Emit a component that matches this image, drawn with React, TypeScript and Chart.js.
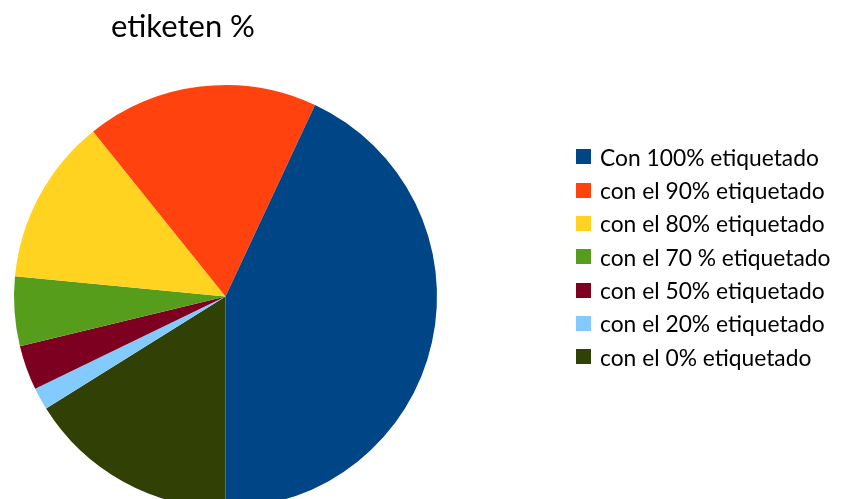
import React, { useEffect, useRef } from "react";
import { Chart, registerables } from "chart.js";

Chart.register(...registerables);

const TITLE = "etiketen %";
const categories = [
  "Con 100% etiquetado",
  "con el 90% etiquetado",
  "con el 80% etiquetado",
  "con el 70 % etiquetado",
  "con el 50% etiquetado",
  "con el 20% etiquetado",
  "con el 0% etiquetado",
];
const values = [43.0, 17.7, 12.7, 5.3, 3.4, 1.7, 16.1];
const colors = ["#004586", "#ff420e", "#ffd320", "#579d1c", "#7e0021", "#83caff", "#314004"];

const FONT = "Lato, 'Open Sans', sans-serif";

export default function App() {
  const canvasRef = useRef<HTMLCanvasElement | null>(null);

  useEffect(() => {
    const canvas = canvasRef.current;
    if (!canvas) return;
    // LibreOffice draws the series counter-clockwise from the bottom;
    // Chart.js draws clockwise, so feed the data reversed starting at 180°.
    const labels = [...categories].reverse();
    const data = [...values].reverse();
    const bg = [...colors].reverse();
    const chart = new Chart(canvas, {
      type: "pie",
      data: {
        labels,
        datasets: [
          {
            data,
            backgroundColor: bg,
            borderWidth: 0,
          },
        ],
      },
      options: {
        animation: false,
        responsive: false,
        rotation: 180,
        layout: { padding: { left: 14, right: 407, top: 85, bottom: 92 } },
        plugins: {
          legend: { display: false },
          title: { display: false },
          tooltip: { enabled: false },
        },
      },
    });
    return () => chart.destroy();
  }, []);

  return (
    <div
      style={{
        position: "absolute",
        left: 0,
        top: 0,
        width: 844,
        height: 499,
        overflow: "hidden",
        background: "#ffffff",
        fontFamily: FONT,
      }}
    >
      <canvas
        ref={canvasRef}
        width={844}
        height={600}
        style={{ position: "absolute", left: 0, top: 0, width: 844, height: 600 }}
      />
      <div
        style={{
          position: "absolute",
          left: 111,
          top: 10,
          fontSize: 31,
          lineHeight: 1,
          color: "#000",
          whiteSpace: "nowrap",
        }}
      >
        {TITLE}
      </div>
      <div style={{ position: "absolute", left: 576, top: 140.3 }}>
        {categories.map((c, i) => (
          <div
            key={c}
            style={{ display: "flex", alignItems: "center", height: 33.33, whiteSpace: "nowrap" }}
          >
            <span
              style={{
                display: "inline-block",
                width: 15,
                height: 15,
                background: colors[i],
                marginRight: 9,
              }}
            />
            <span style={{ fontSize: 22.8, color: "#000", lineHeight: 1 }}>{c}</span>
          </div>
        ))}
      </div>
    </div>
  );
}
